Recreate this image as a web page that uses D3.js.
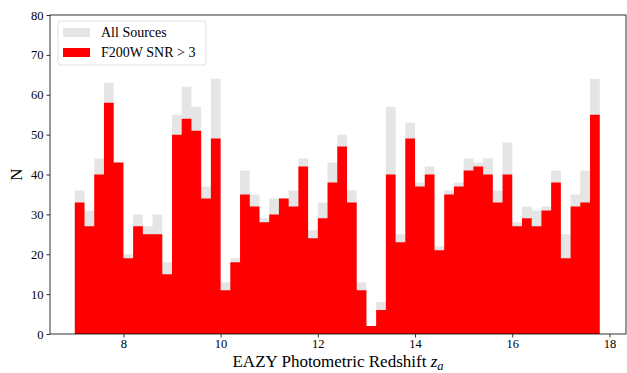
<!DOCTYPE html>
<html>
<head>
<meta charset="utf-8">
<script src="https://cdn.jsdelivr.net/npm/d3@7"></script>
<style>
  html, body { margin: 0; padding: 0; background: #fff; }
  svg text { font-family: "Liberation Serif", "DejaVu Serif", serif; fill: #000; }
</style>
</head>
<body>
<svg id="chart" width="627" height="373"></svg>
<script>
// Histogram bins: lower edge of first bin and common bin width
const binStart = 7.0;
const binWidth = 0.2;

// Counts per bin, all sources
const allSources = [36,31,44,63,43,20,30,27,30,18,55,62,57,37,64,13,19,41,35,29,
                    34,34,36,44,26,33,43,50,36,13,2,8,57,25,53,38,42,22,36,38,
                    44,43,44,36,48,28,32,31,32,41,25,35,41,64];
// Counts per bin, sources with F200W SNR > 3
const snrSources = [33,27,40,58,43,19,27,25,25,15,50,54,51,34,49,11,18,35,32,28,
                    30,34,32,42,24,29,38,47,33,11,2,6,40,23,49,37,40,21,35,37,
                    41,42,40,33,40,27,29,27,31,38,19,32,33,55];

const xTicks = [8, 10, 12, 14, 16, 18];
const yTicks = [0, 10, 20, 30, 40, 50, 60, 70, 80];
const seriesNames = ["All Sources", "F200W SNR > 3"];
const seriesColors = ["#e5e5e5", "#ff0000"];

const svg = d3.select("#chart");
const plot = { left: 50, right: 626, top: 15, bottom: 334 };

const x = d3.scaleLinear().domain([6.49, 18.34]).range([plot.left, plot.right]);
const y = d3.scaleLinear().domain([0, 80]).range([plot.bottom, plot.top]);

// Turn a list of counts into step points (edge, count), closing at the last edge
function steps(counts) {
  const pts = counts.map((c, i) => [binStart + i * binWidth, c]);
  pts.push([binStart + counts.length * binWidth, counts[counts.length - 1]]);
  return pts;
}

const area = d3.area()
  .x(d => x(d[0]))
  .y0(y(0))
  .y1(d => y(d[1]))
  .curve(d3.curveStepAfter);

[allSources, snrSources].forEach((counts, i) => {
  svg.append("path")
    .attr("d", area(steps(counts)))
    .attr("fill", seriesColors[i]);
});

// Axes
const xAxis = d3.axisBottom(x).tickValues(xTicks).tickSize(3.5).tickPadding(2).tickFormat(d3.format("d"));
const yAxis = d3.axisLeft(y).tickValues(yTicks).tickSize(3.5).tickPadding(3).tickFormat(d3.format("d"));

const gx = svg.append("g").attr("transform", `translate(0,${plot.bottom})`).call(xAxis);
const gy = svg.append("g").attr("transform", `translate(${plot.left},0)`).call(yAxis);
[gx, gy].forEach(g => {
  g.select(".domain").remove();
  g.selectAll(".tick line").attr("stroke", "#000").attr("stroke-width", 0.8);
  g.selectAll(".tick text").style("font-size", "12.5px").attr("fill", "#000");
});

// Frame
svg.append("rect")
  .attr("x", plot.left).attr("y", plot.top)
  .attr("width", plot.right - plot.left).attr("height", plot.bottom - plot.top)
  .attr("fill", "none").attr("stroke", "#000").attr("stroke-width", 0.8);

// Axis titles
const xl = svg.append("text")
  .attr("x", (plot.left + plot.right) / 2)
  .attr("y", 367)
  .attr("text-anchor", "middle")
  .style("font-size", "17px");
xl.append("tspan").text("EAZY Photometric Redshift ");
xl.append("tspan").attr("font-style", "italic").text("z");
xl.append("tspan").attr("font-style", "italic").attr("dy", 3).style("font-size", "12.5px").text("a");

svg.append("text")
  .attr("transform", `translate(22,${(plot.top + plot.bottom) / 2}) rotate(-90)`)
  .attr("text-anchor", "middle")
  .style("font-size", "17px")
  .text("N");

// Legend
const lg = svg.append("g").attr("transform", "translate(58,21)");
lg.append("rect")
  .attr("width", 148).attr("height", 44).attr("rx", 3)
  .attr("fill", "#fff").attr("fill-opacity", 0.8)
  .attr("stroke", "#d9d9d9").attr("stroke-width", 0.8);
seriesNames.forEach((name, i) => {
  const row = lg.append("g").attr("transform", `translate(5,${7 + i * 20})`);
  row.append("rect").attr("width", 27).attr("height", 9).attr("fill", seriesColors[i]);
  row.append("text").attr("x", 38).attr("y", 9).style("font-size", "14px").text(name);
});
</script>
</body>
</html>
